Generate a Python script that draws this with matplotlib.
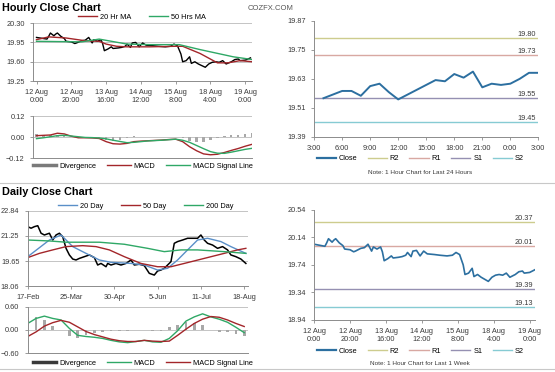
import numpy as np
import matplotlib
matplotlib.use("Agg")
import matplotlib.pyplot as plt
from matplotlib.lines import Line2D

plt.rcParams['font.family'] = ['Liberation Sans', 'DejaVu Sans']

# hourly closes, last week (bar = trading hour since 12 Aug 0:00)
hour_bar = [0, 4, 6, 7, 8, 10, 11, 12, 14, 16, 17, 20, 22, 23, 26, 28, 30, 32, 33, 35,
            37, 38, 39, 41, 43, 44, 47, 49, 51, 52, 54, 55, 57, 59, 61, 63, 67, 70, 74, 77,
            79, 81, 83, 84, 86, 88, 89, 91, 93, 97, 99, 101, 103, 105, 107, 109, 112, 114, 116, 117,
            120, 123]
hour_close = [20.04, 20.02, 20.01, 20.06, 20.12, 20.07, 20.10, 20.12, 20.06, 20.02,
              19.97, 19.96, 19.93, 19.94, 19.98, 19.99, 20.04, 19.94, 20.00, 19.97,
              20.00, 19.93, 19.80, 19.83, 19.87, 19.84, 19.85, 19.86, 19.88, 19.92,
              19.86, 19.94, 19.95, 19.87, 19.94, 19.90, 19.89, 19.88, 19.87, 19.88,
              19.92, 19.89, 19.74, 19.60, 19.62, 19.69, 19.57, 19.60, 19.56, 19.50,
              19.56, 19.59, 19.60, 19.59, 19.62, 19.56, 19.60, 19.64, 19.65, 19.62,
              19.63, 19.67]
hour_ticks = [0, 20, 40, 60, 80, 100, 120]
hour_labels = ["12 Aug\n0:00", "12 Aug\n20:00", "13 Aug\n16:00", "14 Aug\n12:00",
               "15 Aug\n8:00", "18 Aug\n4:00", "19 Aug\n0:00"]

ma20h_bar = [0, 7, 17, 28, 36, 40, 46, 52, 65, 80, 84, 94, 104, 110, 117, 124]
ma20h = [20.00, 20.05, 20.03, 19.98, 19.97, 19.92, 19.88, 19.87, 19.87, 19.88,
         19.88, 19.75, 19.58, 19.58, 19.62, 19.60]
ma50h_bar = [0, 26, 36, 52, 65, 82, 94, 113, 124]
ma50h = [19.97, 19.96, 20.01, 19.92, 19.91, 19.91, 19.82, 19.69, 19.64]

macd_h_bar = list(range(0, 125, 4))
macd_h = [0.008, 0.010, 0.012, 0.022, 0.018, 0.005, -0.004, -0.004, -0.005, -0.008,
          -0.026, -0.038, -0.040, -0.036, -0.026, -0.023, -0.021, -0.019, -0.017, -0.014,
          -0.012, -0.026, -0.055, -0.078, -0.096, -0.101, -0.098, -0.088, -0.076, -0.065,
          -0.052, -0.041]
signal_h = [-0.009, -0.004, 0.002, 0.008, 0.010, 0.006, 0.002, -0.002, -0.003, -0.005,
            -0.010, -0.018, -0.025, -0.032, -0.030, -0.026, -0.022, -0.020, -0.018, -0.015,
            -0.012, -0.018, -0.030, -0.048, -0.066, -0.083, -0.092, -0.093, -0.086, -0.078,
            -0.070, -0.064]

# last 24 hours
h24 = list(range(1, 25))
close24 = [19.55, 19.565, 19.58, 19.58, 19.56, 19.60, 19.61, 19.575, 19.545, 19.565,
           19.585, 19.605, 19.625, 19.62, 19.65, 19.635, 19.66, 19.595, 19.61, 19.605,
           19.61, 19.63, 19.655, 19.655]
h24_labels = ["3:00", "6:00", "9:00", "12:00", "15:00", "18:00", "21:00", "0:00", "3:00"]
levels24 = {"R2": 19.80, "R1": 19.73, "S1": 19.55, "S2": 19.45}
levels_week = {"R2": 20.37, "R1": 20.01, "S1": 19.39, "S2": 19.13}

# daily closes (trading day since 17 Feb)
day_idx = [0, 2, 4, 6, 8, 10, 13, 15, 17, 19, 21, 23, 25, 27, 29, 31, 34, 37, 40, 42,
           44, 47, 48, 50, 53, 56, 59, 62, 64, 67, 70, 73, 76, 78, 80, 82, 84, 86, 88, 90,
           93, 96, 99, 102, 104, 106, 108, 111, 114, 117, 120, 122, 125, 128, 131]
day_close = [21.84, 21.74, 21.84, 21.90, 21.42, 21.31, 21.42, 20.99, 21.31, 21.42,
             21.20, 20.46, 20.04, 19.78, 19.72, 19.82, 19.93, 20.04, 19.87, 19.40,
             19.50, 19.29, 19.50, 19.40, 19.50, 19.40, 19.50, 19.72, 19.40, 19.45,
             19.36, 18.87, 18.76, 19.02, 19.08, 19.19, 19.40, 19.61, 20.78, 20.89,
             20.99, 21.10, 21.10, 21.10, 21.31, 20.99, 20.78, 20.67, 20.46, 20.57,
             20.36, 20.04, 19.93, 19.78, 19.50]
day_ticks = [0, 26, 52, 78, 104, 130]
day_labels = ["17-Feb", "25-Mar", "30-Apr", "5-Jun", "11-Jul", "18-Aug"]

ma20d_idx = [0, 13, 20, 27, 35, 43, 50, 62, 70, 78, 84, 90, 96, 102, 108, 116, 122, 131]
ma20d = [19.93, 20.99, 21.31, 20.57, 20.14, 19.72, 19.57, 19.50, 19.40, 19.08,
         19.19, 19.72, 20.36, 20.99, 21.10, 20.89, 20.57, 20.14]
ma50d_idx = [0, 7, 15, 23, 33, 41, 49, 58, 68, 78, 86, 94, 106, 118, 126, 131]
ma50d = [19.87, 20.14, 20.36, 20.57, 20.63, 20.57, 20.36, 19.93, 19.50, 19.29,
         19.29, 19.50, 19.82, 20.14, 20.36, 20.46]
ma200d_idx = [0, 13, 23, 43, 58, 72, 82, 92, 102, 118, 131]
ma200d = [20.99, 20.93, 20.85, 20.85, 20.72, 20.46, 20.25, 20.36, 20.36, 20.25, 20.14]

macd_d_idx = list(range(0, 131, 5))
macd_d = [0.17, 0.30, 0.36, 0.30, 0.26, 0.04, -0.14, -0.17, -0.19, -0.22,
          -0.27, -0.31, -0.33, -0.30, -0.27, -0.31, -0.32, -0.22, -0.02, 0.23,
          0.34, 0.42, 0.34, 0.28, 0.20, 0.07, -0.07]
signal_d = [-0.17, -0.05, 0.10, 0.19, 0.25, 0.20, 0.08, -0.04, -0.12, -0.18,
            -0.24, -0.28, -0.30, -0.30, -0.27, -0.29, -0.30, -0.29, -0.14, 0.02,
            0.17, 0.28, 0.35, 0.33, 0.26, 0.17, 0.09]

RED = '#a3262a'
GREEN = '#2fa866'
BLUE = '#5a8fc8'
CLOSE_BLUE = '#2c6fa0'
LEVEL_COLORS = {"R2": '#cdcc8e', "R1": '#d8a8a2', "S1": '#9590b2', "S2": '#86cbd3'}
TXT = '#3a3a3a'
FS = 5.3


def style(ax, grid=True):
    for s in ['top', 'right']:
        ax.spines[s].set_visible(False)
    for s in ['left', 'bottom']:
        ax.spines[s].set_color('#8c8c8c')
        ax.spines[s].set_linewidth(0.7)
    ax.tick_params(labelsize=FS, colors='#8c8c8c', labelcolor=TXT, length=2.5, width=0.6)
    if grid:
        ax.yaxis.grid(True, color='#c4c4c4', lw=0.7)
        ax.set_axisbelow(True)


def levels(ax, lv):
    for k, v in lv.items():
        ax.axhline(v, color=LEVEL_COLORS[k], lw=1.0)
        ax.text(0.99, v, f"{v:.2f}", transform=ax.get_yaxis_transform(), ha='right',
                va='bottom', fontsize=FS, color=TXT)


def legend(handles, x, y, spacing=1.8, hl=2.6):
    fig.legend(handles=handles, loc='center', bbox_to_anchor=(x, y), ncol=len(handles),
               frameon=False, fontsize=FS, handlelength=hl, columnspacing=spacing,
               handletextpad=0.4)


def level_legend(y):
    handles = [Line2D([], [], color=CLOSE_BLUE, lw=1.6, label='Close')]
    handles += [Line2D([], [], color=LEVEL_COLORS[k], lw=1.0, label=k) for k in levels24]
    legend(handles, 0.757, y, spacing=1.4)


def line(color, label, lw=1.0):
    return Line2D([], [], color=color, lw=lw, label=label)


fig = plt.figure(figsize=(5.55, 3.72), dpi=100)

# --- hourly close chart ---
ax1 = fig.add_axes([0.0595, 0.782, 0.395, 0.156])
style(ax1)
ax1.plot(hour_bar, hour_close, color='black', lw=1.0)
ax1.plot(ma20h_bar, ma20h, color=RED, lw=1.0)
ax1.plot(ma50h_bar, ma50h, color=GREEN, lw=1.0)
ax1.set_xlim(-2, 124)
ax1.set_ylim(19.25, 20.30)
ax1.set_yticks([19.25, 19.60, 19.95, 20.30])
ax1.yaxis.set_major_formatter('{x:.2f}')
ax1.set_xticks(hour_ticks)
ax1.set_xticklabels(hour_labels)
legend([line(RED, '20 Hr MA'), line(GREEN, '50 Hrs MA')], 0.255, 0.953, spacing=2.4)

ax2 = fig.add_axes([0.0595, 0.575, 0.395, 0.113])
style(ax2)
div_h = np.array(macd_h) - np.array(signal_h)
ax2.bar(macd_h_bar, div_h, width=1.3, color='#a8a8a8')
ax2.plot(macd_h_bar, macd_h, color=RED, lw=1.0)
ax2.plot(macd_h_bar, signal_h, color=GREEN, lw=1.0)
ax2.set_xlim(-2, 124)
ax2.set_ylim(-0.12, 0.12)
ax2.set_yticks([-0.12, 0.0, 0.12])
ax2.yaxis.set_major_formatter('{x:.2f}')
ax2.set_xticks(hour_ticks)
ax2.set_xticklabels([])
ax2.tick_params(axis='x', length=0)
legend([line('#7a7a7a', 'Divergence', 2.5), line(RED, 'MACD'), line(GREEN, 'MACD Signal Line')],
       0.257, 0.553, spacing=1.5, hl=3.2)

# --- last 24 hours ---
ax3 = fig.add_axes([0.566, 0.632, 0.404, 0.312])
style(ax3, grid=False)
levels(ax3, levels24)
ax3.plot(h24, close24, color=CLOSE_BLUE, lw=1.4)
ax3.set_xlim(0, 24)
ax3.set_ylim(19.39, 19.87)
ax3.set_yticks([19.39, 19.51, 19.63, 19.75, 19.87])
ax3.yaxis.set_major_formatter('{x:.2f}')
ax3.set_xticks(range(0, 25, 3))
ax3.set_xticklabels(h24_labels)
level_legend(0.573)
fig.text(0.757, 0.537, "Note: 1 Hour Chart for Last 24 Hours", ha='center', va='center',
         fontsize=4.6, color=TXT)

# --- daily close chart ---
ax4 = fig.add_axes([0.050, 0.231, 0.396, 0.202])
style(ax4)
ax4.plot(day_idx, day_close, color='black', lw=1.1)
ax4.plot(ma20d_idx, ma20d, color=BLUE, lw=1.0)
ax4.plot(ma50d_idx, ma50d, color=RED, lw=1.0)
ax4.plot(ma200d_idx, ma200d, color=GREEN, lw=1.0)
ax4.set_xlim(0, 132)
ax4.set_ylim(18.06, 22.84)
ax4.set_yticks([18.06, 19.65, 21.25, 22.84])
ax4.yaxis.set_major_formatter('{x:.2f}')
ax4.set_xticks(day_ticks)
ax4.set_xticklabels(day_labels)
legend([line(BLUE, '20 Day'), line(RED, '50 Day'), line(GREEN, '200 Day')],
       0.262, 0.446, spacing=2.4)

ax5 = fig.add_axes([0.050, 0.051, 0.396, 0.124])
style(ax5)
div_d = np.array(macd_d) - np.array(signal_d)
ax5.bar(macd_d_idx, div_d, width=1.6, color='#a8a8a8')
ax5.plot(macd_d_idx, macd_d, color=GREEN, lw=1.0)
ax5.plot(macd_d_idx, signal_d, color=RED, lw=1.0)
ax5.set_xlim(0, 132)
ax5.set_ylim(-0.6, 0.6)
ax5.set_yticks([-0.6, 0.0, 0.6])
ax5.yaxis.set_major_formatter('{x:.2f}')
ax5.set_xticks(day_ticks)
ax5.set_xticklabels([])
ax5.tick_params(axis='x', length=0)
legend([line('#3a3a3a', 'Divergence', 2.5), line(GREEN, 'MACD'), line(RED, 'MACD Signal Line')],
       0.257, 0.024, spacing=1.5, hl=3.2)

# --- last week hourly ---
ax6 = fig.add_axes([0.566, 0.140, 0.398, 0.296])
style(ax6, grid=False)
levels(ax6, levels_week)
ax6.plot(hour_bar, hour_close, color=CLOSE_BLUE, lw=1.2)
ax6.set_xlim(0, 123)
ax6.set_ylim(18.94, 20.54)
ax6.set_yticks([18.94, 19.34, 19.74, 20.14, 20.54])
ax6.yaxis.set_major_formatter('{x:.2f}')
ax6.set_xticks(hour_ticks)
ax6.set_xticklabels(hour_labels)
level_legend(0.056)
fig.text(0.757, 0.024, "Note: 1 Hour Chart for Last 1 Week", ha='center', va='center',
         fontsize=4.6, color=TXT)

# titles, watermark and separators
fig.text(0.004, 0.978, "Hourly Close Chart", fontsize=7.8, fontweight='bold', va='center')
fig.text(0.004, 0.484, "Daily Close Chart", fontsize=7.8, fontweight='bold', va='center')
fig.text(0.447, 0.978, "COZFX.COM", fontsize=5.5, color='#555555', va='center')
fig.add_artist(Line2D([0, 1], [0.508, 0.508], color='#c8c8c8', lw=0.8))
fig.add_artist(Line2D([0, 1], [0.008, 0.008], color='#c8c8c8', lw=0.8))

fig.savefig("out.png", dpi=100)
